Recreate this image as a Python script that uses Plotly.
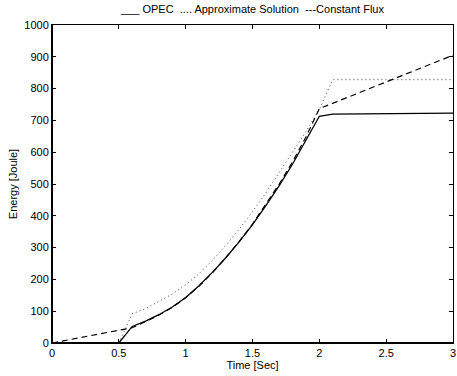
import plotly.graph_objects as go

# OPEC (solid)
t_opec = [0.0, 0.5, 0.6, 0.7, 0.8, 0.9, 1.0, 1.1, 1.2, 1.3, 1.4, 1.5, 1.6, 1.7, 1.8, 1.9, 2.0, 2.1, 3.0]
e_opec = [0, 0, 52, 69, 89, 113, 143, 180, 222, 268, 318, 372, 432, 495, 563, 636, 713, 720, 723]

# Approximate Solution (dotted)
t_approx = [0.5, 0.6, 0.7, 0.8, 0.9, 1.0, 1.1, 1.2, 1.3, 1.4, 1.5, 1.6, 1.7, 1.8, 1.9, 2.0, 2.1, 3.0]
e_approx = [0, 92, 108, 130, 154, 183, 218, 260, 307, 358, 413, 472, 535, 600, 665, 735, 828, 828]

# Constant Flux (dashed)
t_flux = [0.0, 0.6, 0.7, 0.8, 0.9, 1.0, 1.1, 1.2, 1.3, 1.4, 1.5, 1.6, 1.7, 1.8, 1.9, 2.0, 3.0]
e_flux = [0, 48, 67, 88, 112, 142, 179, 221, 268, 319, 374, 435, 500, 570, 648, 737, 905]

x_ticks = [0, 0.5, 1, 1.5, 2, 2.5, 3]
x_tick_labels = ["0", "0.5", "1", "1.5", "2", "2.5", "3"]
y_ticks = [0, 100, 200, 300, 400, 500, 600, 700, 800, 900, 1000]

title_text = "___ OPEC  .... Approximate Solution  ---Constant Flux"

fig = go.Figure()
fig.add_trace(go.Scatter(x=t_opec, y=e_opec, mode="lines",
                         line=dict(color="black", width=1.3), name="OPEC"))
fig.add_trace(go.Scatter(x=t_approx, y=e_approx, mode="lines",
                         line=dict(color="#444444", width=1, dash="1px,3px"),
                         name="Approximate Solution"))
fig.add_trace(go.Scatter(x=t_flux, y=e_flux, mode="lines",
                         line=dict(color="black", width=1.2, dash="6px,4px"),
                         name="Constant Flux"))

axis_common = dict(showgrid=False, zeroline=False, showline=True, linecolor="black",
                   linewidth=1, mirror="ticks", ticks="inside", ticklen=4,
                   tickcolor="black", tickfont=dict(size=11, color="black"),
                   ticklabeloverflow="allow")

fig.update_layout(
    width=457, height=376,
    margin=dict(l=52, r=1, t=25, b=33),
    paper_bgcolor="white", plot_bgcolor="white",
    font=dict(family="Liberation Sans, Arial, sans-serif", size=11, color="black"),
    showlegend=False,
    title=dict(text=title_text, x=0.5, xref="paper", xanchor="center",
               y=1, yref="container", yanchor="top", pad=dict(t=5),
               font=dict(size=11, color="black")),
    xaxis=dict(range=[0, 3], tickvals=x_ticks, ticktext=x_tick_labels,
               title=dict(text="Time [Sec]", standoff=2, font=dict(size=11)), **axis_common),
    yaxis=dict(range=[0, 1000], tickvals=y_ticks,
               title=dict(text="Energy [Joule]", standoff=4, font=dict(size=11)), **axis_common),
)

fig.add_shape(type="line", xref="paper", yref="paper", x0=0, x1=0, y0=0, y1=1,
              line=dict(color="black", width=2))
fig.add_shape(type="line", xref="paper", yref="paper", x0=0, x1=1, y0=0, y1=0,
              line=dict(color="black", width=2))

fig.write_html("out.html")
